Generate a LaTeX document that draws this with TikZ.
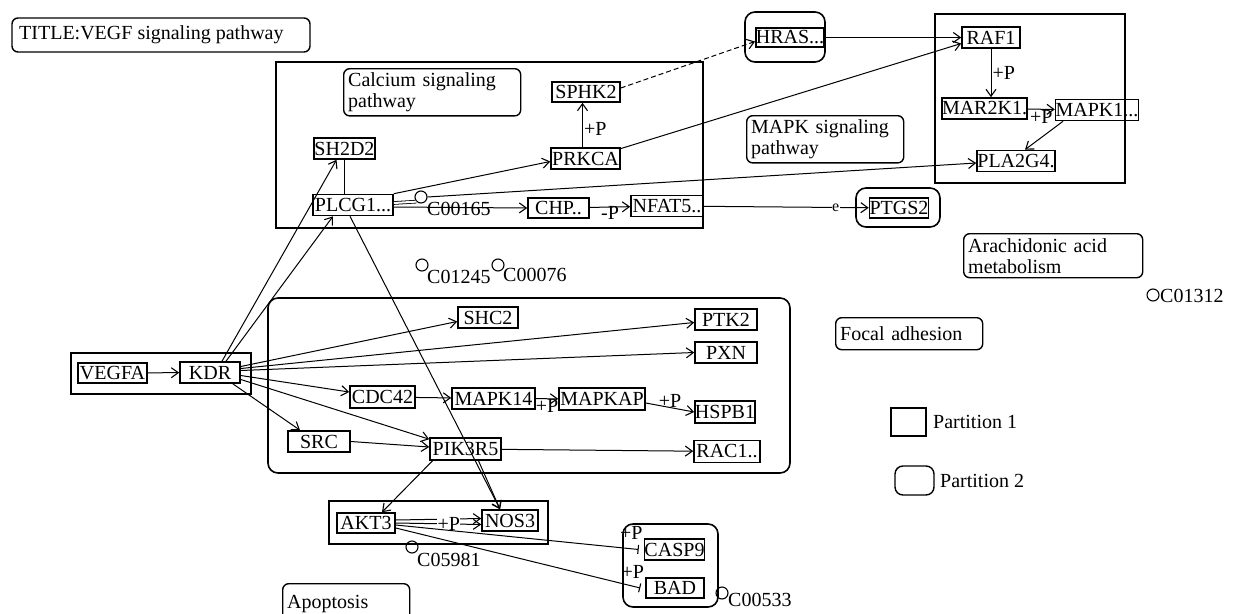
\documentclass[tikz,border=0pt]{standalone}
\usepackage{fontspec}
\setmainfont{Liberation Serif}
\usetikzlibrary{arrows.meta,calc}
\begin{document}
\begin{tikzpicture}[x=1pt,y=-1pt,
  every node/.style={font=\fontsize{20}{21}\selectfont},
  gene/.style={draw, line width=1.6pt, inner sep=0pt, minimum height=21pt},
  part/.style={draw, line width=1.6pt},
  partr/.style={draw, line width=1.6pt, rounded corners=10pt},
  lblbox/.style={draw, line width=1.4pt, rounded corners=6pt, align=left, inner sep=4pt, anchor=north west},
  arr/.style={-{Straight Barb[length=7pt,width=10pt,line width=1.1pt]}, line width=1pt},
  tee/.style={-{Bar[width=9pt,line width=1.1pt]}, line width=1pt},
  lbl/.style={inner sep=1pt},
  cpd/.style={circle, draw, line width=1.1pt, minimum size=12pt, inner sep=0pt},
  cpdl/.style={anchor=west, inner sep=0pt}
]
\useasboundingbox (0,0) rectangle (1255,613);

% ---------- partitions and label boxes ----------
\draw[line width=1.4pt, rounded corners=6pt] (12,18) rectangle (310,52);
\node[anchor=west, inner sep=0pt] (title) at (19,35) {TITLE:VEGF signaling pathway};

\draw[part] (276,62) rectangle (703,228);
\node[lblbox, minimum width=177pt, minimum height=45pt, text width=168pt] (calc) at (343,68) {Calcium signaling\\pathway};
\node[lblbox, minimum width=157pt, minimum height=44pt, text width=148pt] (mapklbl) at (746,115) {MAPK signaling\\pathway};
\draw[part] (935,14) rectangle (1125,183);
\node[lblbox, minimum width=179pt, minimum height=44pt, text width=170pt] (arach) at (963,233) {Arachidonic acid\\metabolism};
\node[lblbox, minimum width=147pt, minimum height=32pt, text width=138pt] (focal) at (835,317) {Focal adhesion};
\draw[partr] (745,12) rectangle (825,62);
\draw[partr] (856,188) rectangle (940,227);
\draw[part] (71,353) rectangle (251,394);
\draw[partr] (268,298) rectangle (790,473);
\draw[part] (329,501) rectangle (548,544);
\draw[partr] (623,524) rectangle (718,607);
\node[lblbox, minimum width=127pt, minimum height=40pt, text width=118pt] (apop) at (282,583) {Apoptosis};

% legend
\draw[line width=1.4pt] (891,408) rectangle (926,436);
\node[anchor=west, inner sep=0pt] (leg1) at (933,422) {Partition 1};
\draw[line width=1.4pt, rounded corners=8pt] (895,466) rectangle (934,495);
\node[anchor=west, inner sep=0pt] (leg2) at (940,481) {Partition 2};

% ---------- genes ----------
\node[gene, minimum width=61pt] (sh2d2) at (344.5,148.5) {SH2D2};
\node[gene, minimum width=80pt] (plcg1) at (353,205) {PLCG1...};
\node[gene, minimum width=68pt, minimum height=20pt] (sphk2) at (586,92) {SPHK2};
\node[gene, minimum width=69pt] (prkca) at (585.5,158.5) {PRKCA};
\node[gene, minimum width=61pt, minimum height=20pt] (chp) at (558.5,208) {CHP..};
\node[gene, minimum width=72pt] (nfat5) at (667,206) {NFAT5..};
\node[gene, minimum width=66pt, minimum height=19pt] (hras) at (790,37.5) {HRAS...};
\node[gene, minimum width=58pt] (raf1) at (991,37.5) {RAF1};
\node[gene, minimum width=83pt] (mar2k1) at (984.5,108.5) {MAR2K1.};
\node[gene, minimum width=82pt] (mapk1) at (1097,110) {MAPK1...};
\node[gene, minimum width=78pt] (pla2g4) at (1016,161) {PLA2G4.};
\node[gene, minimum width=58pt, minimum height=20pt] (ptgs2) at (899,208) {PTGS2};

\node[gene, minimum width=69pt, minimum height=20pt] (vegfa) at (112.5,373) {VEGFA};
\node[gene, minimum width=60pt] (kdr) at (210,372.5) {KDR};
\node[gene, minimum width=60pt] (shc2) at (488,317.5) {SHC2};
\node[gene, minimum width=62pt] (ptk2) at (726,319.5) {PTK2};
\node[gene, minimum width=62pt] (pxn) at (726,352.5) {PXN};
\node[gene, minimum width=65pt, minimum height=22pt] (cdc42) at (382.5,397) {CDC42};
\node[gene, minimum width=83pt] (mapk14) at (493.5,398.5) {MAPK14};
\node[gene, minimum width=86pt, minimum height=22pt] (mapkap) at (602,399) {MAPKAP};
\node[gene, minimum width=60pt, minimum height=22pt] (hspb1) at (725,412) {HSPB1};
\node[gene, minimum width=62pt] (src) at (319,441.5) {SRC};
\node[gene, minimum width=71pt, minimum height=22pt] (pik3r5) at (465.5,449) {PIK3R5};
\node[gene, minimum width=66pt, minimum height=22pt] (rac1) at (727,451.5) {RAC1..};
\node[gene, minimum width=58pt, minimum height=20pt] (akt3) at (366,523) {AKT3};
\node[gene, minimum width=56pt] (nos3) at (510,520.5) {NOS3};
\node[gene, minimum width=57pt] (casp9) at (674.5,549.5) {CASP9};
\node[gene, minimum width=58pt, minimum height=20pt] (bad) at (675,588) {BAD};

% ---------- compounds ----------
\node[cpd] (c00165) at (421,197) {};
\node[cpdl] (c00165l) at (427,209) {C00165};
\node[cpd] (c01245) at (422,265) {};
\node[cpdl] (c01245l) at (427,277) {C01245};
\node[cpd] (c00076) at (498,265) {};
\node[cpdl] (c00076l) at (503,275) {C00076};
\node[cpd] (c01312) at (1153,295) {};
\node[cpdl] (c01312l) at (1160,296) {C01312};
\node[cpd] (c05981) at (412,547) {};
\node[cpdl] (c05981l) at (417,560) {C05981};
\node[cpd] (c00533) at (722,593) {};
\node[cpdl] (c00533l) at (728,600) {C00533};

% ---------- edges: upper ----------
\draw[arr] ([xshift=12pt]kdr.north) -- ([xshift=-8pt]sh2d2.south);
\draw[arr] ([xshift=16pt]kdr.north) -- ([xshift=-20pt]plcg1.south);
\draw[line width=1pt] (sh2d2.south) -- (sh2d2.south |- plcg1.north);
\draw[arr] (plcg1.north east) -- ([yshift=-3pt]prkca.west);
\draw[line width=0.8pt, double, double distance=2pt] ([yshift=2pt]plcg1.east) -- (c00165.south west);
\draw[arr] (c00165.east) -- ([yshift=-2pt]pla2g4.west);
\draw[arr] ([yshift=-2pt]plcg1.east) -- (chp.west);
\draw[arr] (chp) -- node[lbl, below, yshift=2pt]{-P} (nfat5);
\draw[arr] (nfat5) -- node[lbl, pos=0.8, fill=white, inner sep=0.5pt, font=\fontsize{16}{16}\selectfont]{e} (ptgs2);
\draw[arr] ([xshift=-3pt]prkca.north) -- node[lbl, right, pos=0.4]{+P} ([xshift=-3pt]prkca.north |- sphk2.south);
\draw[arr, dash pattern=on 5pt off 3pt] ([yshift=4pt]sphk2.east) -- ([yshift=-4pt]hras.west);
\draw[arr] (hras) -- (raf1);
\draw[arr] ([xshift=-2pt,yshift=-2pt]prkca.north east) -- ([yshift=-6pt]raf1.west);
\draw[arr] (raf1.south) -- node[lbl, right]{+P} (raf1.south |- mar2k1.north);
\draw[arr] (mar2k1) -- node[lbl, below]{+P} (mapk1);
\draw[arr] ([xshift=-34pt]mapk1.south) -- ([xshift=9pt]pla2g4.north);

% ---------- edges: lower ----------
\draw[arr] (vegfa) -- (kdr);
\draw[arr] ([yshift=6pt]kdr.east) -- ([yshift=-4pt]shc2.west);
\draw[arr] ([yshift=4pt]kdr.east) -- ([yshift=-3pt]ptk2.west);
\draw[arr] ([yshift=2pt]kdr.east) -- (pxn.west);
\draw[arr] ([yshift=-3pt]kdr.east) -- ([yshift=5pt]cdc42.west);
\draw[arr] ([yshift=-7pt]kdr.east) -- ([yshift=-2pt]pik3r5.north west);
\draw[arr] ([xshift=-8pt]kdr.south east) -- ([xshift=-19pt]src.north);
\draw[arr] (src.east) -- ([yshift=2pt]pik3r5.west);
\draw[arr] (cdc42) -- (mapk14);
\draw[arr] (mapk14) -- node[lbl, below, yshift=1pt]{+P} (mapkap);
\draw[arr] ([yshift=-4pt]mapkap.east) -- node[lbl, above, yshift=-1pt]{+P} (hspb1.west);
\draw[arr] (pik3r5) -- (rac1);
\draw[arr] ([xshift=-3pt]plcg1.south) -- ([xshift=-10pt]nos3.north);
\draw[arr] ([xshift=-33pt]pik3r5.south) -- ([xshift=16pt]akt3.north);
\draw[arr] ([xshift=13pt]pik3r5.south) -- ([xshift=-10pt]nos3.north);
\draw[arr] ([yshift=3pt]akt3.east) -- ([yshift=2pt]nos3.west);
\draw[arr] (akt3.east) -- node[lbl, pos=0.62, fill=white, inner sep=0.5pt]{+P} ([yshift=-4pt]nos3.west);
\draw[tee] ([yshift=-2pt]akt3.east) -- ([xshift=-5pt]casp9.west);
\draw[tee] ([yshift=-5pt]akt3.east) -- ([xshift=-5pt]bad.west);
\node[lbl, anchor=south east, inner sep=0pt] (pcasp) at ([xshift=-1pt,yshift=-1pt]casp9.north west) {+P};
\node[lbl, anchor=south east, inner sep=0pt] (pbad) at ([xshift=-1pt,yshift=-1pt]bad.north west) {+P};
\end{tikzpicture}
\end{document}
